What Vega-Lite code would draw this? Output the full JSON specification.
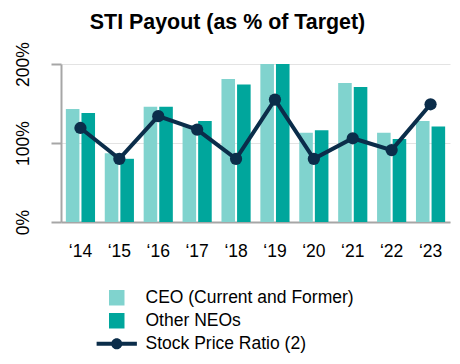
{
  "$schema": "https://vega.github.io/schema/vega-lite/v6.json",
  "width": 389,
  "height": 158,
  "autosize": {"type": "none"},
  "padding": {"left": 61, "top": 64, "right": 10, "bottom": 142},
  "background": "white",
  "config": {
    "font": "Liberation Sans",
    "view": {"stroke": null},
    "axis": {
      "domainColor": "#a6a6a6",
      "domainWidth": 2,
      "tickColor": "#a6a6a6",
      "tickWidth": 2,
      "tickSize": 10,
      "gridColor": "#e3e3e3",
      "gridWidth": 1,
      "labelFont": "Liberation Sans",
      "labelFontSize": 17.5,
      "labelColor": "#000000",
      "title": null
    }
  },
  "title": {
    "text": "STI Payout (as % of Target)",
    "font": "Liberation Sans",
    "fontSize": 21.4,
    "fontWeight": "bold",
    "color": "#000000",
    "anchor": "middle",
    "frame": "group",
    "dx": -28,
    "offset": 8
  },
  "data": {
    "values": [
      {"year": "‘14", "series": "CEO (Current and Former)", "value": 143},
      {"year": "‘14", "series": "Other NEOs", "value": 138},
      {"year": "‘14", "series": "Stock Price Ratio (2)", "value": 119},
      {"year": "‘15", "series": "CEO (Current and Former)", "value": 87},
      {"year": "‘15", "series": "Other NEOs", "value": 80},
      {"year": "‘15", "series": "Stock Price Ratio (2)", "value": 80},
      {"year": "‘16", "series": "CEO (Current and Former)", "value": 146},
      {"year": "‘16", "series": "Other NEOs", "value": 146},
      {"year": "‘16", "series": "Stock Price Ratio (2)", "value": 134},
      {"year": "‘17", "series": "CEO (Current and Former)", "value": 122},
      {"year": "‘17", "series": "Other NEOs", "value": 128},
      {"year": "‘17", "series": "Stock Price Ratio (2)", "value": 117},
      {"year": "‘18", "series": "CEO (Current and Former)", "value": 181},
      {"year": "‘18", "series": "Other NEOs", "value": 174},
      {"year": "‘18", "series": "Stock Price Ratio (2)", "value": 80},
      {"year": "‘19", "series": "CEO (Current and Former)", "value": 200},
      {"year": "‘19", "series": "Other NEOs", "value": 200},
      {"year": "‘19", "series": "Stock Price Ratio (2)", "value": 155},
      {"year": "‘20", "series": "CEO (Current and Former)", "value": 113},
      {"year": "‘20", "series": "Other NEOs", "value": 116},
      {"year": "‘20", "series": "Stock Price Ratio (2)", "value": 80},
      {"year": "‘21", "series": "CEO (Current and Former)", "value": 176},
      {"year": "‘21", "series": "Other NEOs", "value": 171},
      {"year": "‘21", "series": "Stock Price Ratio (2)", "value": 106},
      {"year": "‘22", "series": "CEO (Current and Former)", "value": 113},
      {"year": "‘22", "series": "Other NEOs", "value": 105},
      {"year": "‘22", "series": "Stock Price Ratio (2)", "value": 91},
      {"year": "‘23", "series": "CEO (Current and Former)", "value": 128},
      {"year": "‘23", "series": "Other NEOs", "value": 121},
      {"year": "‘23", "series": "Stock Price Ratio (2)", "value": 149}
    ]
  },
  "encoding": {
    "x": {
      "field": "year",
      "type": "nominal",
      "sort": null,
      "scale": {"paddingInner": 0.25, "paddingOuter": 0.125},
      "axis": {
        "labelAngle": 0,
        "ticks": false,
        "tickSize": 0,
        "labelPadding": 20,
        "labelBaseline": "top",
        "title": null
      }
    },
    "y": {
      "field": "value",
      "type": "quantitative",
      "scale": {"domain": [0, 200], "nice": false},
      "axis": {
        "values": [0, 100, 200],
        "grid": true,
        "labelAngle": -90,
        "labelAlign": "center",
        "labelBaseline": "alphabetic",
        "labelPadding": 23,
        "labelExpr": "datum.value + '%'",
        "title": null
      }
    },
    "color": {
      "field": "series",
      "type": "nominal",
      "scale": {
        "domain": ["CEO (Current and Former)", "Other NEOs", "Stock Price Ratio (2)"],
        "range": ["#80d3ce", "#00a69c", "#0b2d4a"]
      },
      "legend": {
        "orient": "none",
        "legendX": 47,
        "legendY": 225,
        "direction": "vertical",
        "title": null,
        "padding": 0,
        "labelFont": "Liberation Sans",
        "labelFontSize": 17.5,
        "labelColor": "#000000",
        "labelLimit": 0,
        "labelOffset": 20,
        "rowPadding": 4,
        "symbolSize": 240,
        "symbolStrokeWidth": 0,
        "encode": {
          "symbols": {
            "update": {
              "shape": {"signal": "datum.value === 'Stock Price Ratio (2)' ? 'M-2.6,-0.25L2.6,-0.25L2.6,0.25L-2.6,0.25Z M0.72,0A0.72,0.72,0,1,1,-0.72,0A0.72,0.72,0,1,1,0.72,0Z' : 'square'"},
              "fill": {"signal": "scale('color', datum.value)"},
              "stroke": {"value": "transparent"},
              "strokeWidth": {"value": 0},
              "opacity": {"value": 1},
              "fillOpacity": {"value": 1}
            }
          }
        }
      }
    }
  },
  "layer": [
    {
      "transform": [{"filter": "datum.series !== 'Stock Price Ratio (2)'"}],
      "mark": {"type": "bar"},
      "encoding": {
        "xOffset": {
          "field": "series",
          "type": "nominal",
          "sort": ["CEO (Current and Former)", "Other NEOs"],
          "scale": {"paddingInner": 0.13, "paddingOuter": 0}
        }
      }
    },
    {
      "transform": [{"filter": "datum.series === 'Stock Price Ratio (2)'"}],
      "mark": {
        "type": "line",
        "strokeWidth": 4,
        "point": {"size": 150, "filled": true, "opacity": 1}
      }
    }
  ]
}
